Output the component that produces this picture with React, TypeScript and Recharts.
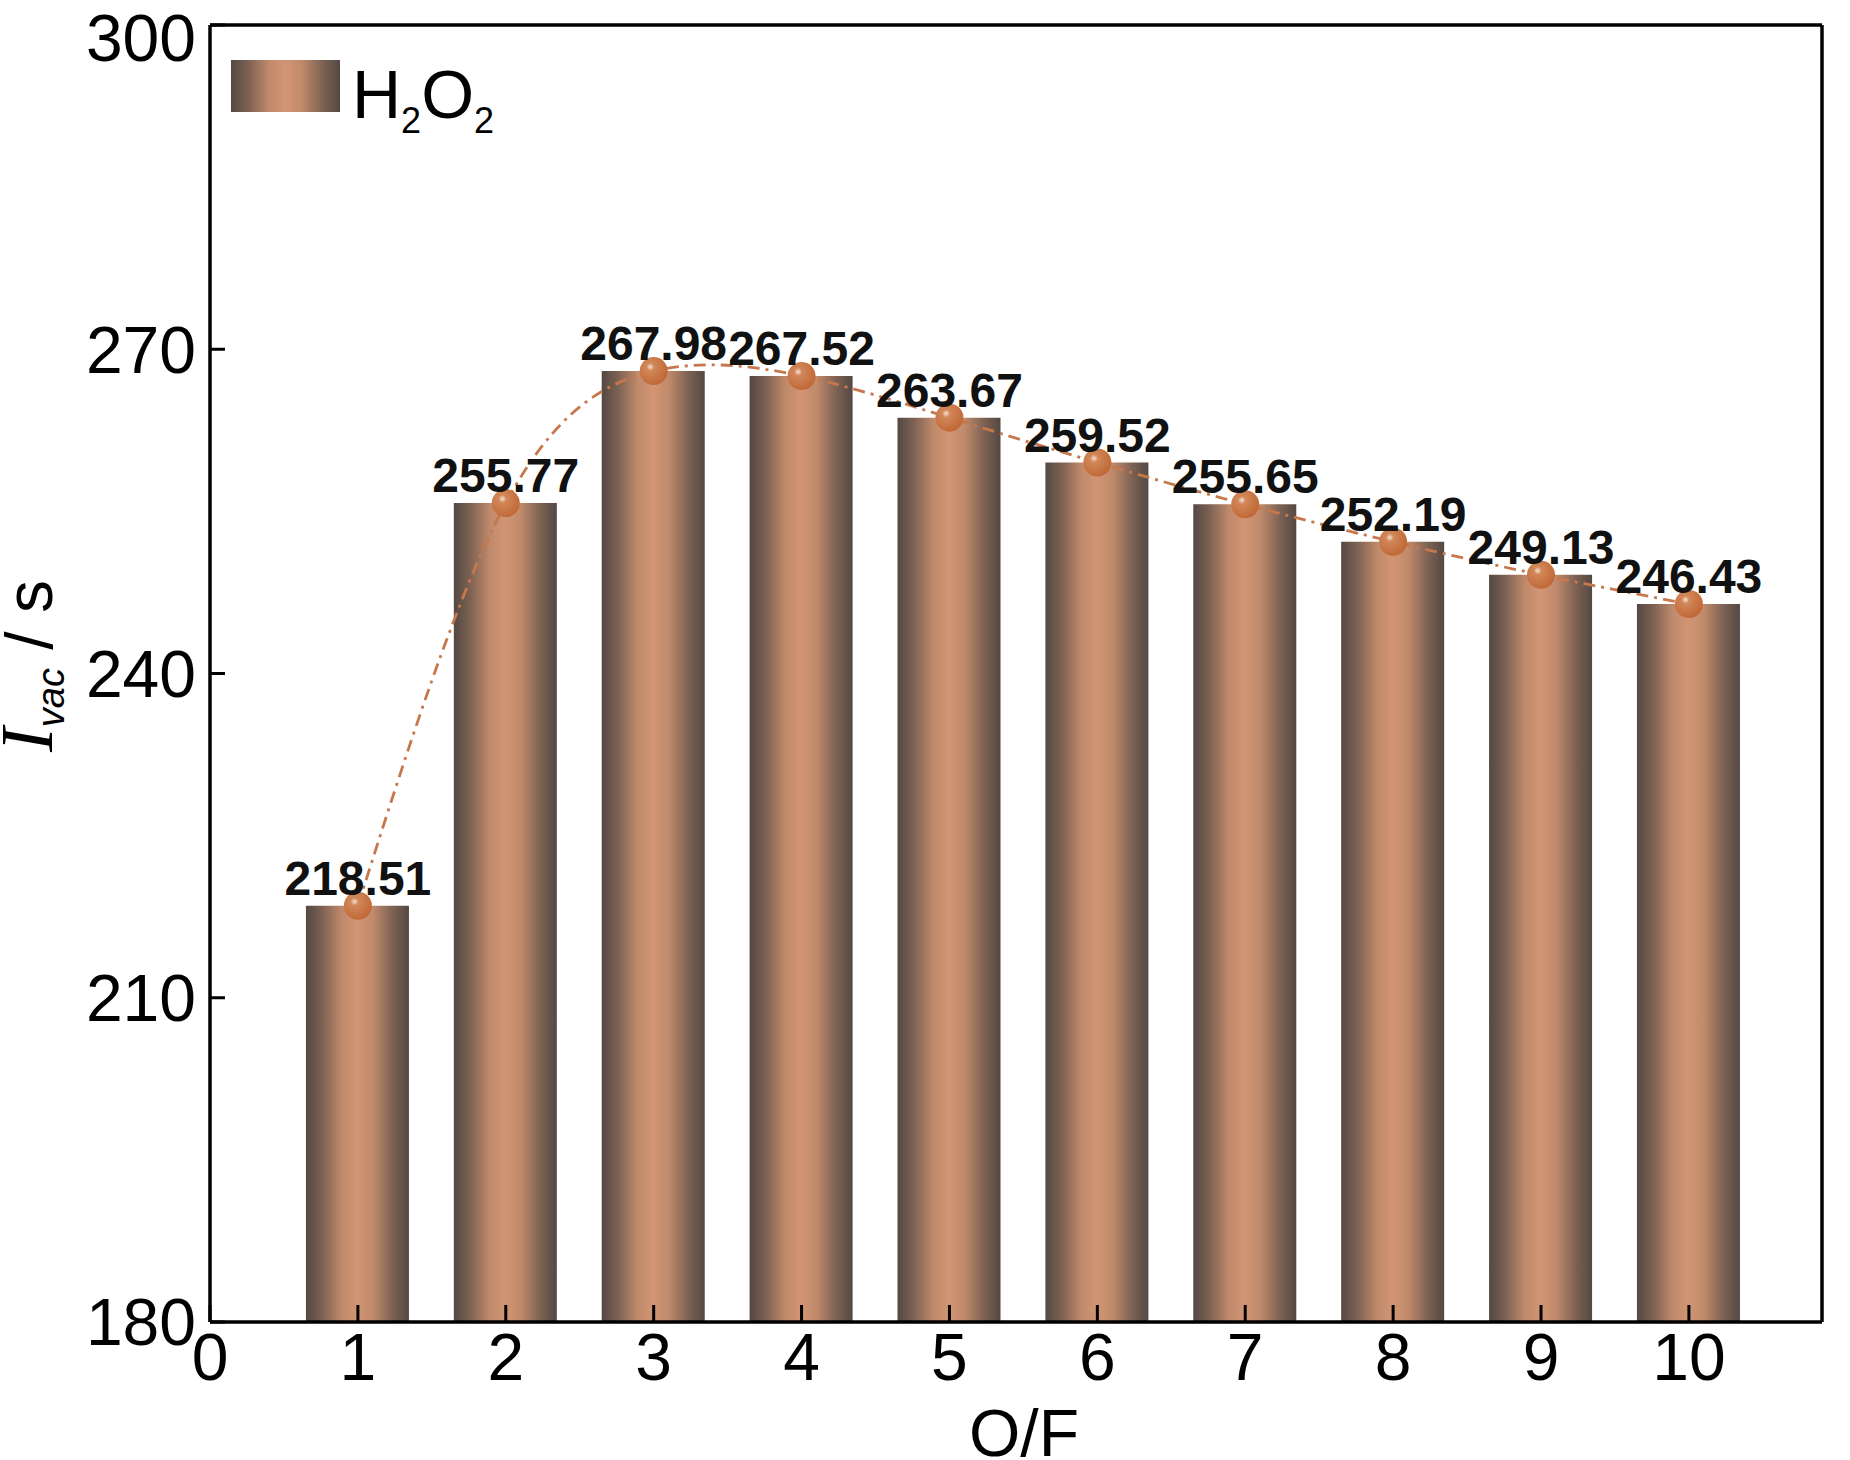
import React from "react";
import {
  ComposedChart,
  Bar,
  Line,
  XAxis,
  YAxis,
  Legend,
  LabelList,
  ReferenceLine,
} from "recharts";

// O/F ratio vs vacuum specific impulse (H2O2)
const ofRatio = [1, 2, 3, 4, 5, 6, 7, 8, 9, 10];
const ivac = [218.51, 255.77, 267.98, 267.52, 263.67, 259.52, 255.65, 252.19, 249.13, 246.43];
const xTicks = [0, 1, 2, 3, 4, 5, 6, 7, 8, 9, 10];
const yTicks = [180, 210, 240, 270, 300];

const data = ofRatio.map((of, i) => ({ of, ivac: ivac[i] }));

const FONT = '"Liberation Sans", Arial, Helvetica, sans-serif';
const SERIF = '"Liberation Serif", "Times New Roman", serif';
const AXIS_W = 3.5;

const ValueLabel = (props: any) => {
  const { x, y, value } = props;
  return (
    <text
      x={x}
      y={y - 11}
      textAnchor="middle"
      fontSize={48}
      fontWeight="bold"
      fontFamily={FONT}
      fill="#111"
    >
      {Number(value).toFixed(2)}
    </text>
  );
};

const Dot = (props: any) => {
  const { cx, cy } = props;
  if (cx == null || cy == null) return null;
  return <circle cx={cx} cy={cy} r={14} fill="url(#dotGrad)" />;
};

const YLabel = () => (
  <text transform="rotate(-90 52 666)" x={52} y={666} textAnchor="middle" fill="#000">
    <tspan fontFamily={SERIF} fontStyle="italic" fontSize={74}>
      I
    </tspan>
    <tspan fontFamily={FONT} fontStyle="italic" fontSize={38} dy={12}>
      vac
    </tspan>
    <tspan fontFamily={FONT} fontSize={66} dy={-12}>
      {" / s"}
    </tspan>
  </text>
);

const LegendBox = () => (
  <div style={{ position: "relative", width: 320, height: 80 }}>
    <div
      style={{
        position: "absolute",
        left: 0,
        top: 0,
        width: 109,
        height: 52,
        background:
          "linear-gradient(to right, #544843 0%, #7a6052 15%, #c08a6b 35%, #d29573 50%, #c08a6b 65%, #7a6052 85%, #544843 100%)",
      }}
    />
    <div
      style={{
        position: "absolute",
        left: 121,
        top: 0,
        fontFamily: FONT,
        fontSize: 68,
        lineHeight: "68px",
        color: "#000",
        whiteSpace: "nowrap",
      }}
    >
      H<span style={{ fontSize: 36, position: "relative", top: 15 }}>2</span>O
      <span style={{ fontSize: 36, position: "relative", top: 15 }}>2</span>
    </div>
  </div>
);

export default function App() {
  return (
    <div style={{ position: "absolute", left: 0, top: 0, background: "#fff" }}>
      <ComposedChart
        width={1850}
        height={1460}
        data={data}
        margin={{ top: 25, right: 28, bottom: 0, left: 0 }}
      >
        <defs>
          <linearGradient id="barGrad" x1="0" y1="0" x2="1" y2="0">
            <stop offset="0%" stopColor="#544843" />
            <stop offset="15%" stopColor="#7a6052" />
            <stop offset="35%" stopColor="#c08a6b" />
            <stop offset="50%" stopColor="#d29573" />
            <stop offset="65%" stopColor="#c08a6b" />
            <stop offset="85%" stopColor="#7a6052" />
            <stop offset="100%" stopColor="#544843" />
          </linearGradient>
          <radialGradient id="dotGrad" cx="38%" cy="35%" r="70%">
            <stop offset="0%" stopColor="#f3e2d6" />
            <stop offset="20%" stopColor="#d28758" />
            <stop offset="100%" stopColor="#bf6634" />
          </radialGradient>
        </defs>
        <XAxis
          dataKey="of"
          type="number"
          domain={[0, 10.9]}
          ticks={xTicks}
          allowDataOverflow
          height={138}
          stroke="#000"
          strokeWidth={AXIS_W}
          tickSize={-17}
          tickMargin={28}
          tickLine={{ stroke: "#000", strokeWidth: 3 }}
          tick={{ fontSize: 66, fill: "#000", fontFamily: FONT }}
          label={{
            value: "O/F",
            position: "insideBottom",
            offset: 4,
            fontSize: 66,
            fill: "#000",
            fontFamily: FONT,
            dx: 8,
          }}
        />
        <YAxis
          type="number"
          domain={[180, 300]}
          ticks={yTicks}
          allowDataOverflow
          width={210}
          stroke="#000"
          strokeWidth={AXIS_W}
          tickSize={-15}
          tickMargin={29}
          tickLine={{ stroke: "#000", strokeWidth: 3 }}
          tick={{ fontSize: 66, fill: "#000", fontFamily: FONT }}
          label={{ position: "center", content: () => <YLabel /> }}
        />
        <ReferenceLine y={300} stroke="#000" strokeWidth={AXIS_W} />
        <ReferenceLine x={10.9} stroke="#000" strokeWidth={AXIS_W} />
        <Legend
          layout="vertical"
          align="center"
          verticalAlign="middle"
          wrapperStyle={{ left: 231, top: 60, width: 320 }}
          content={() => <LegendBox />}
        />
        <Bar
          dataKey="ivac"
          name="H2O2"
          barSize={103}
          fill="url(#barGrad)"
          isAnimationActive={false}
        />
        <Line
          dataKey="ivac"
          type="natural"
          stroke="#c6784c"
          strokeWidth={2.8}
          strokeDasharray="12 6 3 6"
          dot={<Dot />}
          activeDot={false}
          legendType="none"
          isAnimationActive={false}
        >
          <LabelList dataKey="ivac" content={<ValueLabel />} />
        </Line>
      </ComposedChart>
    </div>
  );
}
